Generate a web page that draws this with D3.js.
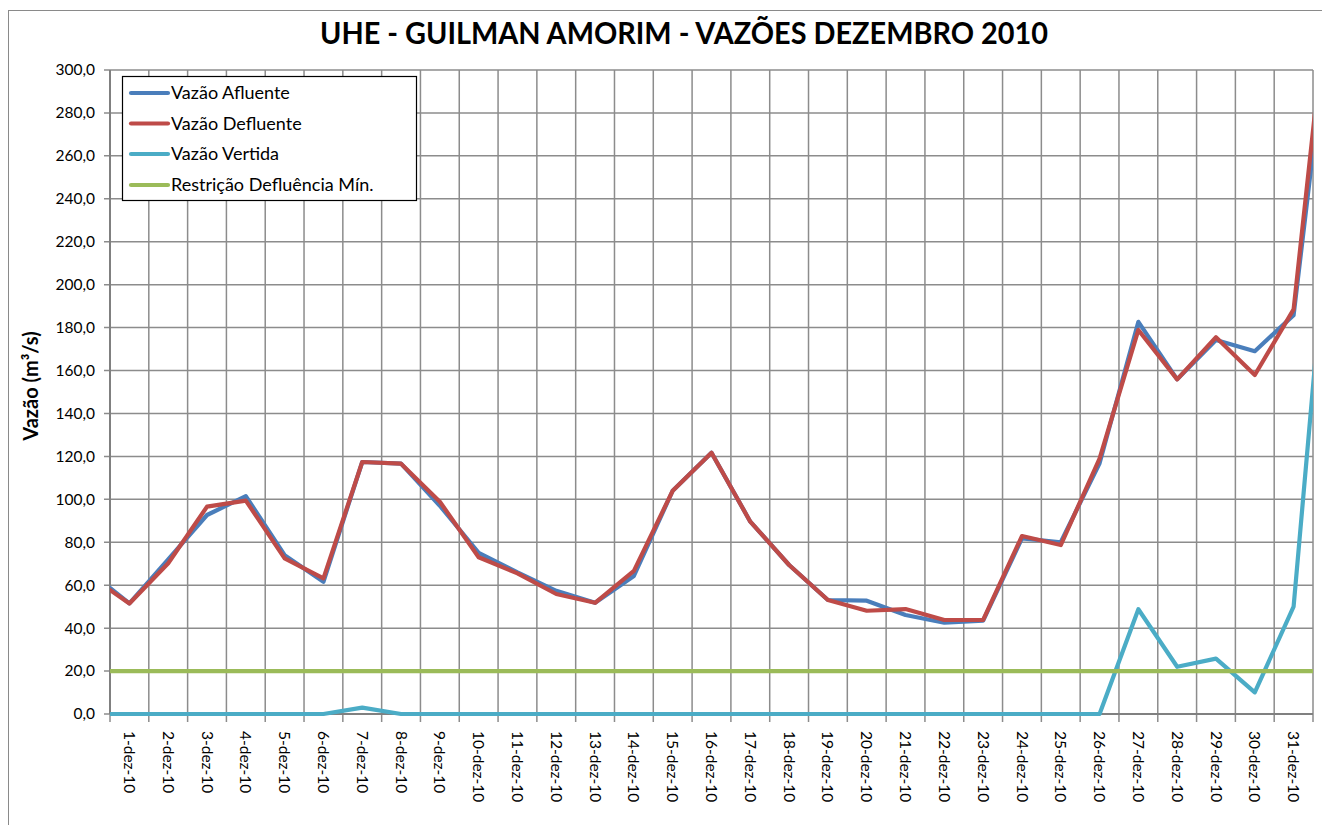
<!DOCTYPE html>
<html><head><meta charset="utf-8">
<script src="https://cdn.jsdelivr.net/npm/d3@7"></script>
<style>body{margin:0;background:#fff}svg{display:block}text{font-family:Lato,"Open Sans",sans-serif;fill:#000}</style>
</head><body><svg id="c" width="1322" height="825"></svg>
<script>
const title = "UHE - GUILMAN AMORIM - VAZÕES DEZEMBRO 2010";
const yTitle = "Vazão (m³/s)";
// dates incl. the neighbouring days that the chart clips at its edges
const dates = ["30-nov-10","1-dez-10","2-dez-10","3-dez-10","4-dez-10","5-dez-10","6-dez-10","7-dez-10","8-dez-10","9-dez-10","10-dez-10","11-dez-10","12-dez-10","13-dez-10","14-dez-10","15-dez-10","16-dez-10","17-dez-10","18-dez-10","19-dez-10","20-dez-10","21-dez-10","22-dez-10","23-dez-10","24-dez-10","25-dez-10","26-dez-10","27-dez-10","28-dez-10","29-dez-10","30-dez-10","31-dez-10","1-jan-11"];
const tickLabels = ["1-dez-10","2-dez-10","3-dez-10","4-dez-10","5-dez-10","6-dez-10","7-dez-10","8-dez-10","9-dez-10","10-dez-10","11-dez-10","12-dez-10","13-dez-10","14-dez-10","15-dez-10","16-dez-10","17-dez-10","18-dez-10","19-dez-10","20-dez-10","21-dez-10","22-dez-10","23-dez-10","24-dez-10","25-dez-10","26-dez-10","27-dez-10","28-dez-10","29-dez-10","30-dez-10","31-dez-10"];
const afluente = [66,51.5,72,92.7,101.5,74,61.6,117.4,116.6,97,75.1,66,57.4,51.8,64.3,104,121.7,89.6,69.4,53.1,52.8,46.1,42.5,43.5,81.8,80,116.8,182.7,155.9,174.2,169,185.8,338];
const defluente = [64,51.5,70.2,96.6,99.4,72.5,63.2,117.4,116.6,98.9,73,65.5,55.9,51.8,66.7,104,121.7,89.6,69.4,53.1,48.1,48.9,43.8,43.8,82.9,78.7,119,178.9,155.9,175.5,157.9,188.5,355];
const vertida = [0,0,0,0,0,0,0,3,0,0,0,0,0,0,0,0,0,0,0,0,0,0,0,0,0,0,0,48.8,22,25.8,10.1,50,255];
const restricao = [20,20,20,20,20,20,20,20,20,20,20,20,20,20,20,20,20,20,20,20,20,20,20,20,20,20,20,20,20,20,20,20,20];
const yTicks = [0,20,40,60,80,100,120,140,160,180,200,220,240,260,280,300];
const seriesNames = ["Vazão Afluente","Vazão Defluente","Vazão Vertida","Restrição Defluência Mín."];
const seriesData = [afluente, defluente, vertida, restricao];
const colors = ["#4a7ebb","#be4b48","#4bacc6","#9bbb59"];

const svg = d3.select("#c");
const L=110, R=1313, T=70, B=714;
const x = d3.scalePoint().domain(dates).range([L-(R-L)/31*0.5, R+(R-L)/31*0.5]);
const y = d3.scaleLinear().domain([0,300]).range([B,T]);
const step = x.step();

// outer chart border
svg.append("rect").attr("x",8.5).attr("y",10.5).attr("width",1400).attr("height",900)
  .attr("fill","none").attr("stroke","#8a8a8a").attr("stroke-width",1);

// title
const tt = svg.append("text").attr("x",684).attr("y",44).attr("text-anchor","middle")
  .attr("font-weight","bold").attr("font-size",30).text(title);
tt.attr("textLength",728).attr("lengthAdjust","spacingAndGlyphs");

// gridlines
const g = svg.append("g");
g.selectAll("line.h").data(yTicks).join("line")
  .attr("x1",L-6).attr("x2",R).attr("y1",d=>y(d)).attr("y2",d=>y(d))
  .attr("stroke","#8c8c8c").attr("stroke-width",1.5);
const bounds = d3.range(tickLabels.length+1);
g.selectAll("line.v").data(bounds).join("line")
  .attr("x1",i=>x(tickLabels[0])-step/2+i*step).attr("x2",i=>x(tickLabels[0])-step/2+i*step)
  .attr("y1",T).attr("y2",B+8)
  .attr("stroke","#8c8c8c").attr("stroke-width",1.5);
// axes lines
g.append("line").attr("x1",L).attr("x2",L).attr("y1",T).attr("y2",B).attr("stroke","#808080").attr("stroke-width",2);
g.append("line").attr("x1",L).attr("x2",R).attr("y1",B).attr("y2",B).attr("stroke","#808080").attr("stroke-width",2);

// y tick labels
svg.append("g").selectAll("text").data(yTicks).join("text")
  .attr("x",95).attr("y",d=>y(d)).attr("dy","0.35em").attr("text-anchor","end")
  .attr("font-size",15.5).text(d=>d3.format(".1f")(d).replace(".",","));

// x tick labels
svg.append("g").selectAll("text").data(tickLabels).join("text")
  .attr("transform",d=>`translate(${x(d)},731) rotate(90)`)
  .attr("dy","0.35em").attr("text-anchor","start").attr("font-size",15.5).text(d=>d);

// y title
svg.append("text").attr("transform","translate(31,386) rotate(-90)")
  .attr("text-anchor","middle").attr("dy","0.35em").attr("font-weight","bold").attr("font-size",20).text(yTitle);

// lines
svg.append("clipPath").attr("id","clip").append("rect").attr("x",L).attr("y",0).attr("width",R-L).attr("height",825);
const line = d3.line().x((d,i)=>x(dates[i])).y(d=>y(d));
const lg = svg.append("g").attr("clip-path","url(#clip)");
seriesData.forEach((s,k)=>{
  lg.append("path").datum(s).attr("d",line).attr("fill","none")
    .attr("stroke",colors[k]).attr("stroke-width",4.2).attr("stroke-linejoin","round");
});

// legend
const leg = svg.append("g");
leg.append("rect").attr("x",122.5).attr("y",76.5).attr("width",294).attr("height",124)
  .attr("fill","#fff").attr("stroke","#000").attr("stroke-width",1.2);
const rowsY = [93,123.5,154,185];
seriesNames.forEach((n,k)=>{
  leg.append("line").attr("x1",131).attr("x2",168).attr("y1",rowsY[k]).attr("y2",rowsY[k])
    .attr("stroke",colors[k]).attr("stroke-width",4.2).attr("stroke-linecap","round");
  leg.append("text").attr("x",171).attr("y",rowsY[k]).attr("dy","0.35em").attr("font-size",18).text(n);
});
</script></body></html>
